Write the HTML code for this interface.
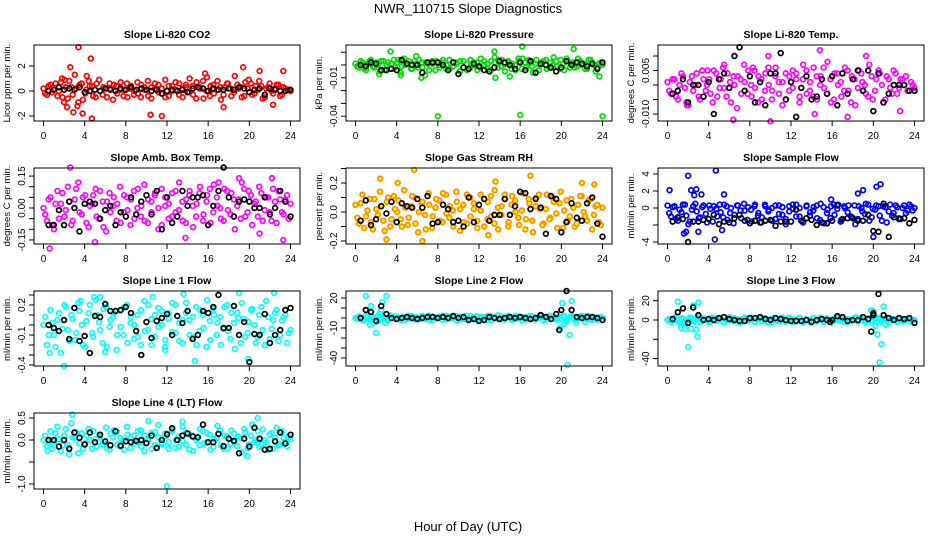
<!DOCTYPE html>
<html><head><meta charset="utf-8"><title>NWR_110715 Slope Diagnostics</title>
<style>
html,body{margin:0;padding:0;background:#fff;}
svg{display:block;font-family:"Liberation Sans",Arial,sans-serif;}
</style></head>
<body>
<svg id="chart" width="936" height="540" viewBox="0 0 936 540" xmlns="http://www.w3.org/2000/svg">
<rect x="0" y="0" width="936" height="540" fill="#fff"/>
<text x="468" y="13" text-anchor="middle" font-size="13">NWR_110715  Slope Diagnostics</text>
<text x="468" y="531" text-anchor="middle" font-size="13">Hour of Day (UTC)</text>
</svg>
<script>
// ---------- data ----------
const xTicks = [0,4,8,12,16,20,24];

const co2Colored = [0.2,-0.3,0.5,0.1,-0.4,0.7,0.9,-0.6,0.3,1.3,-0.9,0.6,-0.2,0.8,0.4,-0.5,0.9,-0.3,0.2,0.6,-0.7,0.4,0.1,-0.4,0.6,0.2,-0.3,0.7,-0.5,0.3,0.8,-0.6,0.2,0.5,-0.2,0.9,-0.4,0.4,0.1,0.6,-0.5,0.3,1.0,-0.3,0.7,0.2,-0.6,1.1,0.4,-0.2,0.8,-0.7,0.3,0.6,-0.4,1.2,0.2,-0.5,0.7,0.9,-0.3,0.4,0.8,-0.6,0.2,0.6,-0.2,0.5,-0.4,0.3,0.1,0.0];
const co2Colored2 = [-0.2,0.4,-0.1,0.6,0.0,-0.5,0.3,0.8,-0.3,0.2,0.5,-0.7,0.1,0.4,-0.4,0.6,0.0,0.3,-0.5,0.2,0.5,-0.2,0.7,0.1,-0.5,0.4,0.0,-0.2,0.5,0.1,-0.4,0.3,0.6,-0.1,0.2,-0.5,0.4,0.0,0.7,-0.3,0.2,0.5,-0.1,0.4,-0.6,0.3,0.8,0.0,-0.4,0.5,0.1,0.3,-0.3,0.6,0.2,-0.1,0.5,0.3,-0.4,0.2,0.6,-0.2,0.1,0.4,-0.5,0.3,0.0,0.2,0.5,-0.3,0.2,0.1];
const co2Outliers = [[3.4,3.5],[4.6,2.6],[2.6,1.9],[2.0,-0.9],[2.3,-1.3],[2.9,-1.7],[3.3,-1.2],[3.8,-1.8],[4.7,-2.2],[10.4,-1.9],[11.5,-2.0],[19.4,1.9],[21.0,1.6],[23.3,1.6],[17.5,-1.3],[22.3,-1.1],[15.7,1.4],[4.2,1.2],[1.8,1.0]];
const co2Black = [0.0,0.1,0.3,0.1,0.2,0.1,0.3,-0.1,0.0,0.1,0.0,0.2,0.1,0.0,0.2,0.1,0.3,0.1,0.2,0.1,0.0,0.1,-0.2,0.0,0.1,0.0,0.1,-0.1,0.2,0.3,0.2,0.0,0.2,0.1,0.1,0.2,0.1,0.3,0.2,-0.1,0.1,0.2,-0.3,0.2,0.1,0.0,0.0,0.1];

const presColored = [0.001,-0.002,0.002,-0.004,0.003,-0.001,0.002,-0.005,0.003,0.000,-0.003,0.004,0.002,-0.006,0.005,0.001,-0.003,0.003,-0.002,0.002,-0.008,0.001,0.003,-0.004,0.000,0.002,-0.003,0.004,-0.001,0.002,-0.005,0.003,0.001,-0.002,0.002,-0.004,0.005,0.000,-0.003,0.003,0.006,-0.002,0.004,-0.005,0.002,0.001,-0.004,0.003,0.005,-0.002,0.002,-0.006,0.004,0.000,0.003,-0.003,0.002,0.006,-0.001,0.004,-0.004,0.003,0.001,-0.002,0.005,0.000,-0.003,0.004,0.002,-0.005,0.001,0.000];
const presColored2 = [-0.001,0.003,-0.003,0.001,0.004,-0.002,0.000,0.003,-0.004,0.002,0.001,-0.002,0.004,-0.001,0.000,0.003,-0.003,0.001,0.004,-0.002,0.002,-0.004,0.001,0.003,-0.002,0.004,0.000,-0.003,0.002,0.001,0.003,-0.002,-0.004,0.004,0.000,0.002,-0.002,0.003,0.001,-0.004,0.002,0.004,-0.001,0.001,0.003,-0.003,0.000,0.005,-0.003,0.002,0.004,-0.001,0.001,-0.004,0.002,0.004,-0.002,0.000,0.003,-0.003,0.001,0.005,-0.002,0.002,-0.001,0.003,0.001,-0.003,0.004,0.000,-0.002,0.002];
const presOutliers = [[3.4,0.0105],[16.2,0.0145],[21.2,0.0125],[13.5,0.0105],[5.9,0.007],[8.0,-0.040],[16.0,-0.039],[24.0,-0.040],[6.4,-0.010],[23.7,-0.009],[15.0,-0.009],[2.3,-0.007],[13.6,-0.010],[4.4,-0.008]];
const presBlack = [0.000,-0.001,0.002,0.001,-0.004,-0.004,-0.003,-0.004,0.004,0.001,0.000,0.000,-0.006,0.002,0.002,0.002,0.000,-0.004,0.002,-0.007,-0.002,-0.003,0.001,-0.001,-0.004,-0.005,-0.002,0.003,0.002,0.000,-0.003,0.002,-0.004,0.003,-0.006,0.001,0.000,-0.002,-0.005,-0.002,0.003,0.000,0.002,0.001,-0.001,0.001,-0.003,0.002];

const tempColored = [0.001,-0.003,0.002,-0.005,0.004,-0.001,-0.007,0.003,0.000,-0.004,0.005,-0.002,0.002,-0.006,0.004,-0.001,0.006,-0.004,0.001,0.003,-0.008,0.002,0.007,-0.003,0.000,0.005,-0.006,0.002,-0.002,0.006,-0.005,0.003,0.001,-0.007,0.004,-0.002,0.005,0.002,-0.004,0.007,-0.003,0.001,0.006,-0.005,0.003,-0.001,0.008,-0.006,0.004,0.000,-0.004,0.006,-0.002,0.003,-0.007,0.005,0.001,-0.003,0.007,-0.005,0.002,0.004,-0.006,0.003,-0.001,0.005,-0.003,0.002,0.000,-0.002,0.001,-0.001];
const tempColored2 = [-0.002,0.002,-0.004,0.000,0.003,-0.006,0.001,-0.002,0.004,-0.005,0.002,0.000,-0.003,0.005,-0.004,0.002,-0.001,0.004,-0.006,0.000,0.003,-0.003,0.001,0.005,-0.004,-0.001,0.003,-0.005,0.004,0.000,-0.002,0.006,-0.003,0.001,-0.005,0.003,-0.001,0.004,-0.006,0.002,0.005,-0.002,-0.004,0.003,0.000,0.006,-0.003,0.002,-0.005,0.004,0.001,-0.002,0.005,-0.006,0.002,-0.001,0.004,0.000,-0.004,0.003,-0.002,0.005,0.000,-0.005,0.002,-0.003,0.004,-0.001,0.002,0.003,-0.002,0.000];
const tempOutliers = [[6.4,-0.012],[10.0,-0.0125],[14.8,0.012],[19.3,0.010],[5.5,0.007],[3.9,0.005],[8.3,0.006],[22.6,-0.009],[17.5,-0.011],[1.9,-0.007],[9.8,0.010],[14.3,-0.010]];
const tempBlack = [-0.003,-0.002,0.002,-0.006,0.000,0.000,-0.004,0.001,-0.010,0.002,0.004,-0.001,0.010,0.013,-0.002,0.003,-0.006,0.001,-0.007,0.004,0.004,0.011,-0.005,0.001,-0.011,-0.001,0.003,-0.005,-0.004,0.002,-0.003,0.003,-0.007,0.004,-0.003,0.002,0.005,-0.002,0.005,-0.009,0.004,-0.006,-0.003,0.000,0.000,0.000,-0.002,-0.002];

const ambColored = [0.00,-0.06,0.05,-0.10,0.08,0.02,-0.04,0.10,-0.08,0.04,0.12,-0.03,0.06,-0.09,0.02,0.09,-0.05,0.03,-0.11,0.07,0.01,-0.06,0.10,-0.02,0.05,-0.08,0.08,0.00,-0.04,0.11,-0.07,0.03,0.06,-0.10,0.09,0.01,-0.05,0.07,-0.02,0.12,-0.06,0.04,0.08,-0.09,0.02,0.10,-0.03,0.06,-0.07,0.11,0.01,-0.05,0.09,-0.01,0.07,-0.10,0.04,0.12,-0.04,0.08,-0.08,0.03,0.10,-0.06,0.05,-0.02,0.09,-0.07,0.04,-0.03,0.06,0.02];
const ambColored2 = [-0.03,0.04,-0.08,0.02,-0.05,0.07,-0.01,0.03,-0.06,0.09,-0.02,0.05,-0.07,0.01,0.06,-0.04,0.08,-0.09,0.03,-0.02,0.05,0.02,-0.07,0.06,-0.01,0.04,-0.05,0.09,0.01,-0.06,0.04,-0.02,0.07,0.00,-0.08,0.05,0.02,-0.04,0.08,-0.01,0.03,-0.07,0.06,0.01,-0.04,0.07,-0.06,0.03,0.09,-0.02,0.05,0.00,-0.06,0.08,-0.03,0.04,0.01,-0.05,0.09,-0.02,0.06,0.02,-0.04,0.07,-0.01,0.05,-0.06,0.03,0.08,-0.02,0.04,-0.05];
const ambOutliers = [[0.6,-0.19],[2.6,0.19],[5.0,-0.16],[19.0,0.14],[22.2,0.14],[23.3,-0.15],[13.8,-0.14],[17.0,0.12],[21.0,-0.12]];
const ambBlack = [-0.08,-0.08,-0.01,-0.08,0.03,0.00,-0.11,0.02,0.03,0.02,-0.05,-0.01,0.01,-0.08,-0.02,-0.04,0.05,-0.03,0.03,0.06,-0.03,0.08,-0.10,0.05,-0.07,-0.04,0.08,0.01,0.05,0.05,0.06,-0.08,0.01,0.08,0.19,0.05,-0.04,0.03,0.04,0.03,0.00,0.00,0.05,-0.03,0.00,0.08,0.03,-0.04];

const rhColored = [0.05,-0.08,0.12,-0.03,0.09,-0.12,0.02,0.14,-0.06,0.07,-0.10,0.11,0.00,-0.05,0.15,-0.09,0.04,0.10,-0.14,0.06,-0.02,0.13,-0.11,0.03,0.08,-0.07,0.12,-0.04,0.01,0.14,-0.13,0.05,-0.08,0.10,0.02,-0.06,0.12,-0.10,0.07,-0.03,0.15,-0.12,0.04,0.09,-0.07,0.11,0.00,-0.09,0.13,-0.05,0.06,-0.14,0.10,0.02,-0.08,0.12,-0.04,0.07,-0.11,0.14,0.01,-0.06,0.09,-0.10,0.05,0.11,-0.03,0.08,-0.12,0.04,-0.07,0.03];
const rhColored2 = [-0.04,0.06,-0.11,0.01,-0.07,0.09,-0.02,0.04,-0.13,0.10,-0.05,0.02,0.08,-0.10,0.03,-0.04,0.11,-0.08,0.00,0.07,-0.12,0.05,-0.03,0.09,-0.06,0.13,-0.01,0.04,-0.10,0.07,0.02,-0.07,0.12,-0.03,0.06,-0.11,0.01,0.09,-0.05,0.11,-0.08,0.03,-0.02,0.12,-0.10,0.05,0.08,-0.04,0.01,-0.12,0.09,-0.06,0.04,0.12,-0.09,0.02,-0.05,0.10,-0.01,0.06,-0.11,0.08,-0.03,0.03,-0.08,0.11,0.00,-0.06,0.09,-0.02,0.05,-0.09];
const rhOutliers = [[5.7,0.29],[2.4,0.23],[3.0,-0.19],[6.5,-0.20],[13.6,0.21],[17.0,0.25],[22.0,0.20],[12.9,-0.16],[23.2,0.19],[4.1,0.20]];
const rhBlack = [-0.06,0.08,-0.09,-0.05,0.04,-0.01,0.07,-0.07,0.06,0.04,0.03,0.09,0.03,0.11,-0.08,-0.07,0.05,0.02,-0.07,-0.06,-0.10,0.10,-0.07,0.05,0.09,-0.06,-0.02,-0.02,0.09,-0.02,0.04,0.14,0.13,0.02,0.09,0.03,-0.15,0.11,0.09,-0.14,-0.07,0.06,-0.04,-0.06,0.06,0.10,-0.08,-0.17];

const sampColored = [0.3,-1.0,0.2,-1.5,-0.5,0.4,-1.9,-0.2,0.5,-1.2,0.1,-0.7,0.3,-1.6,-0.1,0.4,-1.1,0.2,-0.6,-1.8,0.3,-0.3,0.5,-1.4,-0.2,0.2,-0.9,-1.7,0.4,-0.4,0.0,-1.3,0.3,-0.8,-1.9,0.2,-0.1,0.4,-1.0,-1.6,0.3,-0.5,0.1,-1.2,0.5,-1.8,-0.2,0.2,-0.8,0.4,-1.4,0.0,0.3,-1.1,-1.9,0.2,-0.4,0.5,-1.5,-0.1,0.3,-0.9,0.2,-1.7,0.4,-0.6,0.1,-1.3,0.3,-0.3,0.2,0.0];
const sampColored2 = [-0.6,0.1,-1.3,-0.2,0.4,-0.9,-1.6,0.2,-0.4,-1.1,0.3,-1.7,-0.1,0.2,-1.0,-0.5,0.4,-1.4,0.0,-0.8,0.3,-1.2,-0.3,0.1,-1.6,0.4,-0.6,-1.1,0.2,-0.2,-1.5,0.3,-0.7,0.1,-1.3,-0.4,0.4,-1.0,0.0,-1.7,0.2,-0.9,-0.3,0.3,-1.4,0.1,-0.6,-1.2,0.4,-0.1,-1.6,0.2,-0.5,-1.0,0.3,-1.3,0.0,-0.7,0.4,-1.1,-0.2,0.2,-1.5,0.1,-0.4,-0.9,0.3,-1.2,0.0,-0.6,0.4,-0.3];
const sampOutliers = [[0.2,2.1],[2.0,3.8],[4.7,4.4],[2.3,2.1],[2.8,2.2],[3.3,1.6],[5.5,1.6],[1.6,-3.0],[4.6,-3.7],[1.8,-2.8],[3.0,-2.8],[20.3,2.5],[20.7,2.8],[20.0,-3.4],[18.5,1.7],[19.0,2.1],[15.9,1.0],[2.6,1.5],[5.3,-2.6]];
const sampBlack = [-1.6,-1.1,-1.3,-4.0,-1.6,-1.6,-1.4,-1.3,-0.8,-1.9,-1.6,-1.7,-1.2,-0.8,-1.5,-1.8,-1.5,-1.7,-1.5,-1.4,-2.1,-1.6,-1.6,-1.6,-0.2,-1.5,-1.2,-1.4,-2.0,-1.7,-1.8,-1.5,0.3,-1.3,-1.2,-1.2,-1.5,-1.5,-0.8,-2.7,-2.8,0.5,-3.4,-1.1,-1.3,-1.2,-1.8,-1.4];

const l1Colored = [0.0,-0.2,0.15,-0.1,0.05,-0.28,0.2,-0.05,0.1,-0.15,0.22,0.0,-0.22,0.12,-0.08,0.25,0.03,-0.18,0.18,-0.02,0.08,-0.25,0.14,-0.1,0.2,0.02,-0.14,0.1,-0.2,0.24,-0.05,0.06,-0.12,0.17,0.0,-0.25,0.12,-0.07,0.2,-0.16,0.05,0.22,-0.1,0.08,-0.2,0.15,-0.03,0.25,-0.15,0.1,0.02,-0.2,0.18,-0.06,0.12,-0.24,0.07,0.22,-0.12,0.03,0.16,-0.18,0.1,-0.05,0.24,-0.14,0.05,0.15,-0.1,0.08,-0.18,-0.05];
const l1Colored2 = [0.08,-0.1,0.02,-0.22,0.12,-0.04,0.18,-0.16,0.06,-0.08,0.14,-0.2,0.04,0.2,-0.12,0.1,-0.05,0.16,-0.22,0.05,0.12,-0.1,-0.02,0.18,-0.18,0.08,0.0,-0.12,0.15,-0.06,0.2,-0.2,0.1,-0.02,0.14,-0.15,0.06,0.22,-0.08,0.02,-0.18,0.12,0.05,-0.12,0.18,-0.06,0.1,-0.22,0.04,0.16,-0.1,0.08,-0.04,0.2,-0.14,0.02,0.12,-0.18,0.06,-0.08,0.15,0.0,-0.12,0.18,-0.2,0.08,-0.04,0.12,-0.16,0.04,0.1,-0.08];
const l1Outliers = [[2.0,-0.41],[14.7,-0.36],[3.6,0.24],[4.9,0.28],[5.5,0.28],[10.6,0.28],[13.6,0.31],[19.0,0.32],[22.4,0.32],[19.9,-0.34],[0.6,-0.28],[6.0,-0.27],[11.8,-0.22]];
const l1Black = [0.0,-0.03,-0.06,0.05,-0.14,0.17,-0.16,-0.11,-0.28,0.09,0.08,0.21,0.14,0.14,0.15,0.18,0.12,-0.06,-0.3,0.03,-0.13,0.04,0.07,0.11,-0.1,0.09,0.02,0.14,-0.14,-0.1,0.14,0.12,0.18,0.3,-0.03,-0.03,0.19,-0.1,0.03,-0.37,-0.09,-0.1,0.11,-0.18,-0.1,-0.05,0.15,0.17];

const l2Colored = [0,1.5,-1.8,2.2,-0.8,1.0,-2.3,0.4,1.8,-1.2,2.5,-0.3,0.8,-2.0,1.3,-0.6,2.0,-1.5,0.2,1.6,-0.9,2.4,-2.2,0.6,1.1,-1.7,2.1,-0.2,0.7,-2.4,1.4,-1.0,2.3,0.1,-1.4,1.9,-0.5,0.9,-2.1,1.7,-0.7,2.6,-1.3,0.3,1.2,-1.9,2.2,-0.4,0.5,-1.6,1.8,-1.1,0.0,2.4,-2.3,1.0,-0.8,1.5,-1.8,0.6,2.0,-0.3,1.3,-1.4,0.8,2.1,-0.9,1.6,-2.0,0.4,-0.6,0.2];
const l2Colored2 = [-1.0,0.8,-2.0,1.2,0.3,-1.5,2.0,-0.6,1.0,-2.2,0.5,1.6,-1.1,0.2,-1.8,2.2,-0.4,0.9,-1.3,2.1,0.0,-2.0,1.4,-0.8,0.6,2.3,-1.6,1.0,-0.3,1.8,-2.1,0.4,-1.2,2.0,0.7,-1.7,1.1,-0.1,1.9,-2.3,0.9,-0.6,1.5,-1.4,2.1,0.2,-1.0,1.3,-2.2,0.8,-0.2,1.7,-1.5,0.5,1.2,-2.0,2.2,-0.7,0.3,-1.3,1.6,-2.1,0.9,0.1,-1.6,1.4,-0.5,2.0,-1.1,0.7,-1.8,1.0];
const l2Outliers = [[1.0,22],[1.5,12],[2.0,-15],[1.4,-7],[1.8,-5],[2.3,4],[2.5,8],[2.6,16],[2.9,-5],[3.0,22],[2.2,-3],[20.1,15],[20.5,-3],[20.8,-17],[20.6,-47],[21.1,2],[21.0,17],[21.4,-5],[19.9,-10],[20.3,-6],[22.3,-4]];
const l2Black = [0,8,6,-3,12,4,0,-1,0,1,0,-1,0,1,1,0,1,0,2,0,1,-2,-1,-3,-2,1,0,-1,0,1,0,1,0,-1,0,3,1,-1,4,8,27,8,1,0,1,1,0,-2];
const l2BlackExtra = [[19.8,-12]];

const l3Colored = [0,-2,2.5,-1,1.5,-3,0.5,2,-1.5,3,-0.5,1,-2.5,2.2,-0.8,1.8,-2.2,0.3,2.8,-1.2,0.8,-2.8,1.6,-0.2,2.4,-1.8,0.6,-0.9,2.1,-2.6,1.2,0.0,-1.4,2.7,-0.6,1.4,-2.1,0.9,2.3,-1.6,0.2,-2.4,1.9,-0.4,2.6,-1.1,0.7,-2.7,1.7,-0.1,2.2,-1.9,1.0,-0.7,2.9,-1.3,0.4,-2.3,1.5,-0.3,2.0,-1.7,0.8,2.5,-1.0,1.1,-2.0,0.6,-0.5,1.3,-1.5,0.0];
const l3Colored2 = [1.2,-0.8,0.4,-2.2,1.8,-0.2,2.6,-1.4,0.6,-2.4,1.5,0.1,-1.7,2.3,-0.5,1.0,-2.6,0.8,-0.3,2.0,-1.5,0.3,2.4,-0.9,1.3,-2.0,0.0,1.9,-1.2,0.7,-2.3,2.1,-0.4,1.1,-1.8,2.5,0.2,-1.0,1.6,-2.5,0.9,-0.2,2.2,-1.4,0.5,-2.1,1.8,0.0,-1.1,2.6,-0.6,1.2,-2.2,0.4,1.7,-1.6,2.3,-0.8,0.1,-1.9,1.4,2.0,-1.2,0.6,-2.4,1.0,-0.4,2.2,-1.3,0.3,1.6,-0.9];
const l3Outliers = [[1.0,19],[1.3,-8],[1.7,-9],[2.0,-28],[2.3,-9],[2.5,15],[2.8,-10],[3.0,18],[2.9,-17],[20.0,9],[20.2,-6],[20.4,-15],[20.8,-25],[20.6,-44],[21.0,14],[21.2,-5],[19.8,10]];
const l3Black = [1,8,12,-3,13,5,0,1,0,2,3,1,0,-1,-1,2,2,3,1,0,2,1,0,-1,-1,-1,0,-2,0,1,0,0,4,3,-1,0,0,3,1,7,27,5,2,0,2,1,2,-3];
const l3BlackExtra = [[19.8,-12],[20.0,5],[15.8,-2]];

const l4Colored = [0.0,-0.15,0.2,-0.05,0.3,-0.25,0.1,-0.12,0.38,0.05,-0.3,0.15,-0.08,0.25,-0.2,0.02,0.12,-0.1,0.28,-0.22,0.06,0.18,-0.14,0.0,0.3,-0.18,0.1,-0.05,0.22,-0.26,0.04,0.16,-0.12,0.34,-0.06,0.08,-0.2,0.2,0.0,-0.15,0.3,-0.1,0.12,-0.25,0.06,0.25,-0.08,0.15,-0.22,0.02,0.32,-0.12,0.1,-0.18,0.22,-0.04,0.08,-0.28,0.18,-0.1,0.35,0.0,-0.15,0.24,-0.06,0.12,-0.2,0.28,-0.1,0.05,-0.14,0.02];
const l4Colored2 = [0.1,-0.05,-0.2,0.15,0.02,-0.12,0.25,-0.18,0.06,0.18,-0.08,-0.2,0.1,0.0,0.2,-0.14,0.08,-0.04,-0.18,0.14,0.22,-0.1,0.04,-0.22,0.12,0.05,-0.08,0.2,-0.15,0.1,0.0,-0.2,0.18,0.06,-0.1,0.15,-0.05,0.24,-0.18,0.08,-0.02,0.16,-0.22,0.1,0.0,-0.12,0.2,-0.06,0.12,-0.16,0.05,0.22,-0.2,0.08,-0.08,0.15,-0.14,0.04,0.25,-0.18,0.1,-0.05,0.2,-0.1,0.0,-0.22,0.16,0.06,-0.12,0.2,-0.04,0.08];
const l4Outliers = [[2.8,0.58],[12.0,-1.05],[20.8,0.5],[10.2,0.43],[13.5,0.42],[19.8,-0.37],[2.5,-0.32],[0.4,-0.25]];
const l4Black = [0.0,0.0,-0.15,0.0,-0.2,0.17,0.05,-0.1,0.17,-0.05,0.12,-0.03,-0.12,0.2,-0.13,-0.03,-0.05,-0.02,0.0,-0.07,0.1,-0.18,0.0,0.13,0.27,0.0,0.1,0.15,0.08,0.06,0.35,-0.05,-0.05,0.14,-0.14,0.03,-0.02,-0.3,0.03,-0.15,0.28,0.03,-0.22,-0.2,-0.03,0.17,-0.08,0.12];

// ---------- layout ----------
const NS = "http://www.w3.org/2000/svg";
const svg = document.getElementById('chart');
const cols = [{l:34,r:300},{l:346,r:612},{l:658,r:924}];
const rows = [{t:45,b:121},{t:168,b:244},{t:291,b:366},{t:413,b:489}];

const panels = [
 {key:'co2',title:'Slope Li-820 CO2',ylab:'Licor ppm per min.',col:0,row:0,y0:91,ppu:12.5,ticks:[-2,0,2],labels:{'-2':'-2','0':'0','2':'2'},color:'#ff0000',fill:'none',c:co2Colored,c2:co2Colored2,o:co2Outliers,k:co2Black,e:[]},
 {key:'pressure',title:'Slope Li-820 Pressure',ylab:'kPa per min.',col:1,row:0,y0:65,ppu:1280,ticks:[0.01,0,-0.01,-0.02,-0.03,-0.04],labels:{'-0.01':'-0.01','-0.04':'-0.04'},color:'#00dd00',fill:'none',c:presColored,c2:presColored2,o:presOutliers,k:presBlack,e:[]},
 {key:'li820-temp',title:'Slope Li-820 Temp.',ylab:'degrees C per min.',col:2,row:0,y0:85,ppu:2900,ticks:[0.01,0.005,0,-0.005,-0.01],labels:{'0.005':'0.005','-0.01':'-0.010'},color:'#ff00ff',fill:'none',c:tempColored,c2:tempColored2,o:tempOutliers,k:tempBlack,e:[]},
 {key:'amb-temp',title:'Slope Amb. Box Temp.',ylab:'degrees C per min.',col:0,row:1,y0:208,ppu:213,ticks:[0.15,0.1,0.05,0,-0.05,-0.1,-0.15],labels:{'0.15':'0.15','0':'0.00','-0.15':'-0.15'},color:'#ff00ff',fill:'none',c:ambColored,c2:ambColored2,o:ambOutliers,k:ambBlack,e:[]},
 {key:'rh',title:'Slope Gas Stream RH',ylab:'percent per min.',col:1,row:1,y0:212,ppu:145,ticks:[0.3,0.2,0.1,0,-0.1,-0.2],labels:{'0.2':'0.2','0':'0.0','-0.2':'-0.2'},color:'#ff8c00',fill:'#ffff00',c:rhColored,c2:rhColored2,o:rhOutliers,k:rhBlack,e:[]},
 {key:'sample-flow',title:'Slope Sample Flow',ylab:'ml/min per min.',col:2,row:1,y0:208,ppu:8.5,ticks:[4,2,0,-2,-4],labels:{'4':'4','2':'2','0':'0','-4':'-4'},color:'#0000ff',fill:'none',c:sampColored,c2:sampColored2,o:sampOutliers,k:sampBlack,e:[]},
 {key:'line1',title:'Slope Line 1 Flow',ylab:'ml/min per min.',col:0,row:2,y0:325,ppu:100,ticks:[0.3,0.2,0.1,0,-0.1,-0.2,-0.3,-0.4],labels:{'0.2':'0.2','-0.1':'-0.1','-0.4':'-0.4'},color:'#00ffff',fill:'none',c:l1Colored,c2:l1Colored2,o:l1Outliers,k:l1Black,e:[]},
 {key:'line2',title:'Slope Line 2 Flow',ylab:'ml/min per min.',col:1,row:2,y0:318,ppu:1,ticks:[20,10,0,-10,-20,-30,-40],labels:{'20':'20','-10':'-10','-40':'-40'},color:'#00ffff',fill:'none',c:l2Colored,c2:l2Colored2,o:l2Outliers,k:l2Black,e:l2BlackExtra},
 {key:'line3',title:'Slope Line 3 Flow',ylab:'ml/min per min.',col:2,row:2,y0:320,ppu:0.965,ticks:[20,0,-20,-40],labels:{'20':'20','0':'0','-40':'-40'},color:'#00ffff',fill:'none',c:l3Colored,c2:l3Colored2,o:l3Outliers,k:l3Black,e:l3BlackExtra},
 {key:'line4',title:'Slope Line 4 (LT) Flow',ylab:'ml/min per min.',col:0,row:3,y0:440,ppu:44,ticks:[0.5,0,-0.5,-1],labels:{'0.5':'0.5','0':'0.0','-1':'-1.0'},color:'#00ffff',fill:'none',c:l4Colored,c2:l4Colored2,o:l4Outliers,k:l4Black,e:[]}
];

function mk(tag, attrs, parent){
  const el = document.createElementNS(NS, tag);
  for (const a in attrs) el.setAttribute(a, attrs[a]);
  (parent||svg).appendChild(el);
  return el;
}

panels.forEach(p => {
  const c = cols[p.col], r = rows[p.row];
  const xs = h => c.l + 9.5 + h * (247/24);
  const ys = v => p.y0 - v * p.ppu;
  const g = mk('g', {});
  
  

  // colored series (two interleaved sampling passes)
  const n = p.c.length;
  p.c.forEach((v, i) => {
    const h = i * 24 / (n - 1);
    const pt = mk('circle', {cx: xs(h), cy: ys(v), r: 2.4, fill: p.fill, stroke: p.color, 'stroke-width': 1.7}, g);
    
    
  });
  const n2 = p.c2.length;
  p.c2.forEach((v, i) => {
    const h = (i + 0.5) * 24 / n2;
    const pt = mk('circle', {cx: xs(h), cy: ys(v), r: 2.4, fill: p.fill, stroke: p.color, 'stroke-width': 1.7}, g);
    
    
  });
  p.o.forEach(d => {
    const pt = mk('circle', {cx: xs(d[0]), cy: ys(d[1]), r: 2.4, fill: p.fill, stroke: p.color, 'stroke-width': 1.7}, g);
    
    
  });
  // black series
  p.k.forEach((v, i) => {
    const h = 0.5 + i * 0.5;
    const pt = mk('circle', {cx: xs(h), cy: ys(v), r: 2.4, fill: 'none', stroke: '#000', 'stroke-width': 1.7}, g);
    
    
  });
  p.e.forEach(d => {
    const pt = mk('circle', {cx: xs(d[0]), cy: ys(d[1]), r: 2.4, fill: 'none', stroke: '#000', 'stroke-width': 1.7}, g);
    
    
  });

  // box
  const box = mk('rect', {x: c.l, y: r.t, width: c.r - c.l, height: r.b - r.t, fill: 'none', stroke: '#000', 'stroke-width': 1}, g);
  
  

  // x axis ticks
  xTicks.forEach(t => {
    const x = xs(t);
    const tk = mk('line', {x1: x, y1: r.b, x2: x, y2: r.b + 5, stroke: '#000'}, g);
    
    
    const lb = mk('text', {x: x, y: r.b + 18, 'text-anchor': 'middle', 'font-size': 10}, g);
    lb.textContent = t;
    
    
  });
  // y axis ticks
  p.ticks.forEach(t => {
    const y = ys(t);
    const tk = mk('line', {x1: c.l - 5, y1: y, x2: c.l, y2: y, stroke: '#000'}, g);
    
    
    const key = String(t);
    if (p.labels[key] !== undefined) {
      const lb = mk('text', {x: c.l - 9, y: y, 'text-anchor': 'middle', 'font-size': 10, transform: 'rotate(-90 ' + (c.l - 9) + ' ' + y + ')'}, g);
      lb.textContent = p.labels[key];
      
      
    }
  });
  // titles
  const tt = mk('text', {x: (c.l + c.r) / 2, y: r.t - 7, 'text-anchor': 'middle', 'font-size': 10.5, 'font-weight': 'bold'}, g);
  tt.textContent = p.title;
  
  
  const ym = (r.t + r.b) / 2, yx = c.l - 24;
  const yl = mk('text', {x: yx, y: ym, 'text-anchor': 'middle', 'font-size': 9.5, transform: 'rotate(-90 ' + yx + ' ' + ym + ')'}, g);
  yl.textContent = p.ylab;
  
  
});
</script>
</body></html>
